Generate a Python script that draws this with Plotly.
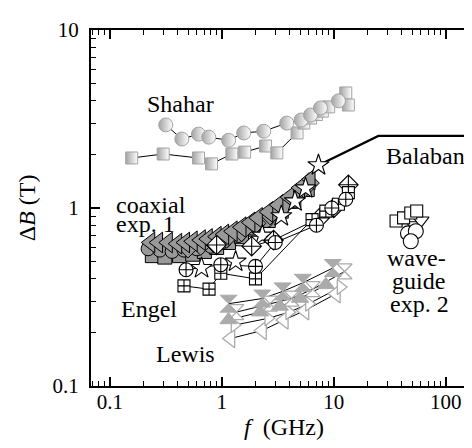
import plotly.graph_objects as go
import math

# ---------------- data ----------------
shahar_sq_x = [0.157, 0.30, 0.62, 0.81, 1.23, 1.6, 2.46, 3.1, 4.7, 5.4, 6.2, 7.0, 7.9, 9.0, 12.8, 13.5]
shahar_sq_y = [1.91, 2.01, 1.91, 1.77, 2.01, 2.06, 2.23, 2.04, 2.64, 3.0, 3.2, 3.35, 3.5, 3.7, 4.43, 3.79]
shahar_ci_x = [0.316, 0.44, 0.62, 0.765, 1.15, 1.57, 2.37, 3.8, 5.1, 6.2, 7.6, 11.0]
shahar_ci_y = [2.93, 2.44, 2.6, 2.5, 2.4, 2.64, 2.7, 3.0, 3.12, 3.33, 3.65, 4.0]

balaban_x = [7.3, 25.0, 200.0]
balaban_y = [1.74, 2.54, 2.54]

coax_tri_x = [0.23, 0.27, 0.33, 0.40, 0.47, 0.55, 0.65, 0.75, 0.90, 1.05, 1.25, 1.5, 1.8, 2.1, 2.6, 3.2, 4.0, 5.0, 6.2]
coax_tri_y = [0.64, 0.64, 0.64, 0.63, 0.64, 0.65, 0.66, 0.67, 0.69, 0.71, 0.74, 0.78, 0.83, 0.88, 0.95, 1.04, 1.15, 1.30, 1.45]
coax_sq_x = [0.24, 0.31, 0.42, 0.55, 0.7, 0.9, 1.15, 1.5, 2.0, 2.6, 3.4, 4.4, 5.8]
coax_sq_y = [0.54, 0.53, 0.54, 0.55, 0.57, 0.60, 0.64, 0.69, 0.76, 0.85, 0.96, 1.09, 1.27]
coax_ci_x = [0.22, 0.28, 0.36, 0.46, 0.6, 0.8, 1.05, 1.4, 1.9, 2.5, 3.3, 4.3]
coax_ci_y = [0.59, 0.58, 0.57, 0.58, 0.59, 0.61, 0.65, 0.70, 0.77, 0.85, 0.96, 1.09]
coax_di_x = [0.5, 0.65, 0.85, 1.1, 1.5, 2.0, 2.7, 3.6, 4.8, 6.0]
coax_di_y = [0.60, 0.62, 0.64, 0.68, 0.74, 0.82, 0.92, 1.04, 1.20, 1.38]
star_x = [0.66, 1.33, 2.3, 3.4, 4.5, 5.6, 7.3]
star_y = [0.46, 0.50, 0.70, 0.90, 1.09, 1.29, 1.74]

engel_ci_x = [0.48, 0.98, 2.0, 3.0, 7.0, 9.6, 12.8]
engel_ci_y = [0.45, 0.48, 0.47, 0.64, 0.80, 1.0, 1.12]
engel_sq_x = [0.46, 0.77, 0.98, 2.0, 6.4, 8.5, 11.0, 13.5]
engel_sq_y = [0.365, 0.35, 0.43, 0.40, 0.86, 0.96, 1.05, 1.22]
engel_di_x = [0.9, 1.85, 2.9, 7.5, 10.0, 13.5]
engel_di_y = [0.62, 0.61, 0.66, 0.88, 1.0, 1.35]

lewis_hg_x = [1.15, 2.3, 3.5, 5.3, 9.8]
lewis_hg_y = [0.29, 0.31, 0.34, 0.38, 0.46]
lewis_tu_x = [1.15, 2.2, 3.3, 5.0, 8.5]
lewis_tu_y = [0.235, 0.26, 0.28, 0.31, 0.37]
lewis_tl_x = [1.2, 2.3, 3.6, 5.5, 10.5]
lewis_tl_y = [0.185, 0.205, 0.235, 0.265, 0.33]
lewis_ho_x = [1.35, 2.7, 4.2, 6.5, 12.5]
lewis_ho_y = [0.26, 0.29, 0.31, 0.35, 0.44]
lewis_tr_x = [1.3, 2.6, 4.0, 6.0, 11.5]
lewis_tr_y = [0.22, 0.24, 0.26, 0.29, 0.36]

wg_sq_x = [36.0, 42.0, 48.7, 55.0]
wg_sq_y = [0.845, 0.88, 0.937, 0.962]
wg_td_x = [52.0, 60.0]
wg_td_y = [0.80, 0.85]
wg_ci_x = [46.0, 54.0, 48.7]
wg_ci_y = [0.72, 0.74, 0.65]

x_ticks = [0.1, 1, 10, 100]
x_ticklabels = ["0.1", "1", "10", "100"]
y_ticks = [0.1, 1, 10]
y_ticklabels = ["0.1", "1", "10"]

# ---------------- figure ----------------
FONT = "Liberation Serif"
GRAY_S = "#a3a3a3"
GRAY_C = "#999999"
GRAY_L = "#ababab"

fig = go.Figure()

def connect(x, y):
    fig.add_trace(go.Scatter(x=x, y=y, mode="lines",
                             line=dict(color="black", width=1), hoverinfo="skip"))

def marks(x, y, symbol, size, fill, edge, lw=1.0, gradient=None):
    m = dict(symbol=symbol, size=size, color=fill, line=dict(color=edge, width=lw))
    if gradient:
        m["gradient"] = gradient
    fig.add_trace(go.Scatter(x=x, y=y, mode="markers", marker=m))

# connecting lines under all markers
for xs, ys in [(shahar_sq_x, shahar_sq_y), (shahar_ci_x, shahar_ci_y),
               (engel_ci_x, engel_ci_y), (engel_sq_x, engel_sq_y), (engel_di_x, engel_di_y),
               (lewis_hg_x, lewis_hg_y), (lewis_tu_x, lewis_tu_y), (lewis_tl_x, lewis_tl_y),
               (lewis_ho_x, lewis_ho_y), (lewis_tr_x, lewis_tr_y)]:
    connect(xs, ys)

half = dict(type="horizontal", color="white")
marks(shahar_sq_x, shahar_sq_y, "square", 12, GRAY_S, GRAY_S, 1, half)
marks(shahar_ci_x, shahar_ci_y, "circle", 14, GRAY_S, GRAY_S, 1, half)

marks(lewis_tl_x, lewis_tl_y, "triangle-left", 16, "white", GRAY_L, 1.3)
marks(lewis_tr_x, lewis_tr_y, "triangle-right", 13, "white", GRAY_L, 1.3)
marks(lewis_ho_x, lewis_ho_y, "hourglass", 15, "white", GRAY_L, 1.3)
marks(lewis_tu_x, lewis_tu_y, "triangle-up", 15, GRAY_L, GRAY_L, 1)
marks(lewis_hg_x, lewis_hg_y, "hourglass", 17, GRAY_L, GRAY_L, 1)

marks(coax_sq_x, coax_sq_y, "square", 14, GRAY_C, "black", 1)
marks(coax_ci_x, coax_ci_y, "circle", 14, GRAY_C, "black", 1)
marks(coax_di_x, coax_di_y, "diamond", 16, GRAY_C, "black", 1)
marks(coax_tri_x, coax_tri_y, "triangle-left", 18, GRAY_C, "black", 1)

fig.add_trace(go.Scatter(x=balaban_x, y=balaban_y, mode="lines",
                         line=dict(color="black", width=2.2), hoverinfo="skip"))
marks(star_x, star_y, "star", 16, "white", "black", 1.1)

marks(engel_di_x, engel_di_y, "diamond-cross", 15, "white", "black", 1.1)
marks(engel_sq_x, engel_sq_y, "square-cross", 12, "white", "black", 1.1)
marks(engel_ci_x, engel_ci_y, "circle-cross", 14, "white", "black", 1.1)

marks(wg_td_x, wg_td_y, "triangle-down", 14, "white", "black", 1.1)
marks(wg_ci_x, wg_ci_y, "circle", 15, "white", "black", 1.1)
marks(wg_sq_x, wg_sq_y, "square", 12, "white", "black", 1.1)

# ---------------- layout ----------------
L, R, T, B = 83, 3, 22, 70
W, H = 472, 448
PW, PH = W - L - R, H - T - B

def px(xp):
    return (xp - L) / PW

def py(yp):
    return (H - B - yp) / PH

def minor_vals(lo, hi):
    out = []
    e = lo
    while e < hi:
        for k in range(2, 10):
            out.append(k * 10 ** e)
        e += 1
    return out

axis_common = dict(type="log", showline=True, linecolor="black", linewidth=2,
                   mirror="ticks", ticks="inside", ticklen=9, tickwidth=1.6, tickcolor="black",
                   showgrid=False, zeroline=False, automargin=False,
                   tickfont=dict(family=FONT, size=21, color="black"))

fig.update_layout(
    width=W, height=H,
    margin=dict(l=L, r=R, t=T, b=B),
    paper_bgcolor="white", plot_bgcolor="white",
    showlegend=False,
    font=dict(family=FONT, color="black"),
    xaxis=dict(axis_common, range=[math.log10(0.068), math.log10(190)],
               tickvals=x_ticks, ticktext=x_ticklabels, ticklabelstandoff=-4,
               minor=dict(tickvals=minor_vals(-2, 3), ticks="inside", ticklen=5,
                          tickwidth=1.3, tickcolor="black", showgrid=False),
               title=dict(text="<i>f</i>  (GHz)", font=dict(family=FONT, size=24), standoff=4)),
    yaxis=dict(axis_common, range=[-1, 1],
               tickvals=y_ticks, ticktext=y_ticklabels, ticklabelstandoff=6,
               minor=dict(tickvals=minor_vals(-1, 1), ticks="inside", ticklen=5,
                          tickwidth=1.3, tickcolor="black", showgrid=False),
               title=dict(text="Δ<i>B</i> (T)", font=dict(family=FONT, size=24), standoff=10)),
)

labels = [
    ("Shahar", 172, 96, "center"),
    ("Balaban", 417, 148, "center"),
    ("coaxial", 106, 197, "left"),
    ("exp. 1", 106, 216, "left"),
    ("Engel", 141, 301, "center"),
    ("Lewis", 177, 346, "center"),
    ("wave-", 408, 250, "center"),
    ("guide", 410, 273, "center"),
    ("exp. 2", 411, 296, "center"),
]
for text, xx, yy, anc in labels:
    fig.add_annotation(text=text, x=px(xx), y=py(yy), xref="paper", yref="paper",
                       xanchor=anc, yanchor="middle", showarrow=False,
                       font=dict(family=FONT, size=24, color="black"))

fig.write_html("out.html")
